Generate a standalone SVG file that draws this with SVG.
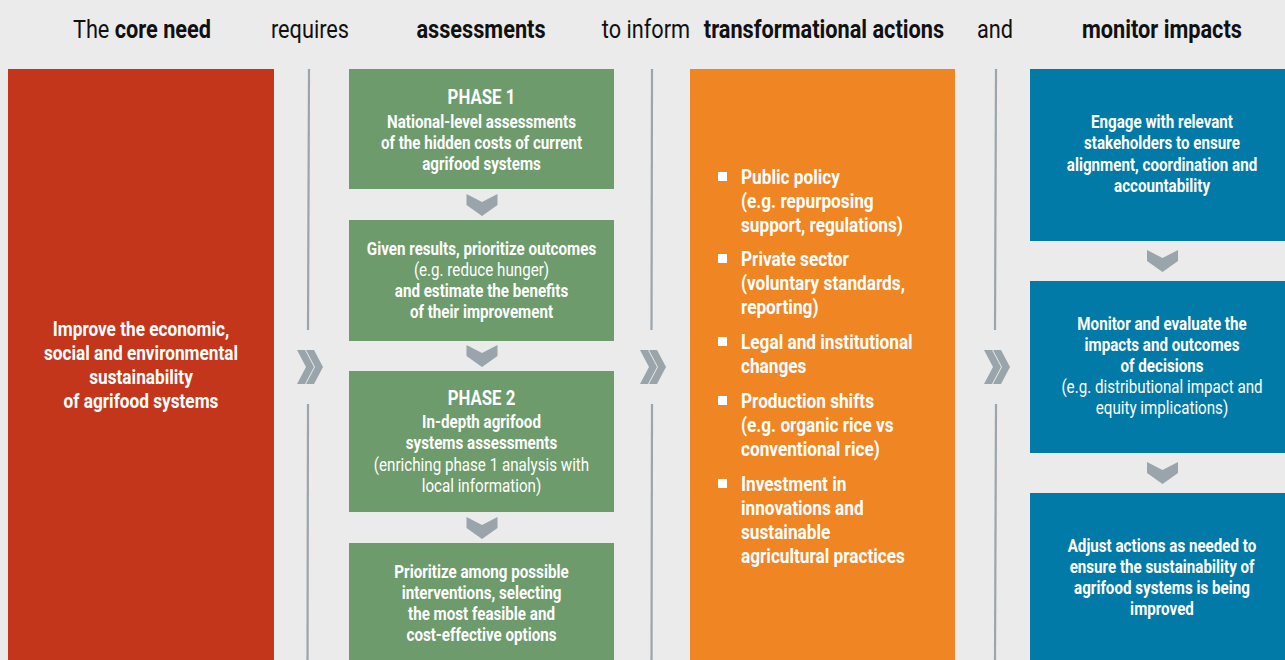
<svg xmlns="http://www.w3.org/2000/svg" width="1285" height="660" viewBox="0 0 1285 660">
<defs>
<style>
text{font-family:Roboto,"Liberation Sans",sans-serif;text-anchor:middle;transform-box:fill-box;transform-origin:center;transform:scaleX(0.82);}
.hd{font-size:26.5px;fill:#111;}
.b{font-weight:bold;}
.w{fill:#fff;font-weight:bold;font-size:18.5px;}
.wr{fill:#fff;font-weight:normal;font-size:18.5px;}
.big{font-size:21px;}
.ph{font-size:20.5px;}
.li{fill:#fff;font-weight:bold;font-size:21px;text-anchor:start;transform-origin:left center;}
.sep{stroke:#9aa5ad;stroke-width:2.2;fill:none;}
.chev{fill:#99a4ab;}
</style>
<polygon id="cd" points="-15.5,-11 0,-3 15.5,-11 15.5,0 0,11 -15.5,0"/>
<g id="cr">
<polygon points="0,0 8,0 17,17 8,34 0,34 9,17"/>
<polygon points="9,0 17,0 26,17 17,34 9,34 18,17"/>
</g>
</defs>
<rect x="0" y="0" width="1285" height="660" fill="#ebebeb"/>
<g id="header">
<text class="hd" x="142" y="38">The <tspan class="b">core need</tspan></text>
<text class="hd" x="310" y="38">requires</text>
<text class="hd b" x="481" y="38">assessments</text>
<text class="hd" x="646" y="38">to inform</text>
<text class="hd b" x="824" y="38">transformational actions</text>
<text class="hd" x="995" y="38">and</text>
<text class="hd b" x="1162" y="38">monitor impacts</text>
</g>
<g id="core-need">
<rect x="8" y="69" width="266" height="591" fill="#c3361b"/>
<text class="w big" x="141" y="336">Improve the economic,</text>
<text class="w big" x="141" y="360">social and environmental</text>
<text class="w big" x="141" y="384">sustainability</text>
<text class="w big" x="141" y="408">of agrifood systems</text>
</g>
<g id="phase1">
<rect x="349" y="69" width="265" height="120" fill="#6d9b6b"/>
<text class="w ph" x="481.5" y="104">PHASE 1</text>
<text class="w" x="481.5" y="128">National-level assessments</text>
<text class="w" x="481.5" y="149">of the hidden costs of current</text>
<text class="w" x="481.5" y="170">agrifood systems</text>
</g>
<g id="prioritize-outcomes">
<rect x="349" y="220" width="265" height="121" fill="#6d9b6b"/>
<text class="w" x="481.5" y="255">Given results, prioritize outcomes</text>
<text class="wr" x="481.5" y="276">(e.g. reduce hunger)</text>
<text class="w" x="481.5" y="297">and estimate the benefits</text>
<text class="w" x="481.5" y="318">of their improvement</text>
</g>
<g id="phase2">
<rect x="349" y="371" width="265" height="141" fill="#6d9b6b"/>
<text class="w ph" x="481.5" y="405">PHASE 2</text>
<text class="w" x="481.5" y="428">In-depth agrifood</text>
<text class="w" x="481.5" y="449">systems assessments</text>
<text class="wr" x="481.5" y="471">(enriching phase 1 analysis with</text>
<text class="wr" x="481.5" y="492">local information)</text>
</g>
<g id="prioritize-interventions">
<rect x="349" y="543" width="265" height="117" fill="#6d9b6b"/>
<text class="w" x="481.5" y="578">Prioritize among possible</text>
<text class="w" x="481.5" y="599">interventions, selecting</text>
<text class="w" x="481.5" y="620">the most feasible and</text>
<text class="w" x="481.5" y="641">cost-effective options</text>
</g>
<g id="actions">
<rect x="690" y="69" width="265" height="591" fill="#f08523"/>
<g fill="#fff">
<rect x="718" y="172" width="9" height="9"/>
<rect x="718" y="254" width="9" height="9"/>
<rect x="718" y="337" width="9" height="9"/>
<rect x="718" y="396" width="9" height="9"/>
<rect x="718" y="479" width="9" height="9"/>
</g>
<text class="li" x="741" y="184">Public policy</text>
<text class="li" x="741" y="208">(e.g. repurposing</text>
<text class="li" x="741" y="232">support, regulations)</text>
<text class="li" x="741" y="266">Private sector</text>
<text class="li" x="741" y="290">(voluntary standards,</text>
<text class="li" x="741" y="314">reporting)</text>
<text class="li" x="741" y="349">Legal and institutional</text>
<text class="li" x="741" y="373">changes</text>
<text class="li" x="741" y="408">Production shifts</text>
<text class="li" x="741" y="432">(e.g. organic rice vs</text>
<text class="li" x="741" y="456">conventional rice)</text>
<text class="li" x="741" y="491">Investment in</text>
<text class="li" x="741" y="515">innovations and</text>
<text class="li" x="741" y="539">sustainable</text>
<text class="li" x="741" y="563">agricultural practices</text>
</g>
<g id="engage">
<rect x="1030" y="69" width="255" height="172" fill="#027aa8"/>
<text class="w" x="1162" y="128">Engage with relevant</text>
<text class="w" x="1162" y="149">stakeholders to ensure</text>
<text class="w" x="1162" y="171">alignment, coordination and</text>
<text class="w" x="1162" y="192">accountability</text>
</g>
<g id="monitor">
<rect x="1030" y="281" width="255" height="172" fill="#027aa8"/>
<text class="w" x="1162" y="330">Monitor and evaluate the</text>
<text class="w" x="1162" y="351">impacts and outcomes</text>
<text class="w" x="1162" y="372">of decisions</text>
<text class="wr" x="1162" y="393">(e.g. distributional impact and</text>
<text class="wr" x="1162" y="414">equity implications)</text>
</g>
<g id="adjust">
<rect x="1030" y="493" width="255" height="167" fill="#027aa8"/>
<text class="w" x="1162" y="552">Adjust actions as needed to</text>
<text class="w" x="1162" y="573">ensure the sustainability of</text>
<text class="w" x="1162" y="594">agrifood systems is being</text>
<text class="w" x="1162" y="615">improved</text>
</g>
<g id="connectors">
<line class="sep" x1="309" y1="69" x2="308" y2="330"/>
<line class="sep" x1="308" y1="404" x2="307.5" y2="660"/>
<line class="sep" x1="652" y1="69" x2="651.5" y2="330"/>
<line class="sep" x1="652" y1="404" x2="651.5" y2="660"/>
<line class="sep" x1="996" y1="69" x2="995" y2="330"/>
<line class="sep" x1="996" y1="404" x2="995" y2="660"/>
<use href="#cr" class="chev" x="297" y="350"/>
<use href="#cr" class="chev" x="640" y="350"/>
<use href="#cr" class="chev" x="984" y="350"/>
<use href="#cd" class="chev" x="482" y="205"/>
<use href="#cd" class="chev" x="482" y="356"/>
<use href="#cd" class="chev" x="482" y="528"/>
<use href="#cd" class="chev" x="1162.5" y="261"/>
<use href="#cd" class="chev" x="1162.5" y="473"/>
</g>
</svg>
